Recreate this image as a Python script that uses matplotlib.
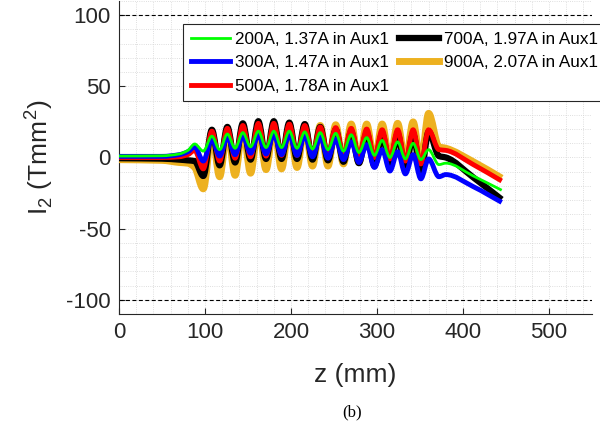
import numpy as np
import matplotlib
matplotlib.use("Agg")
import matplotlib.pyplot as plt
from matplotlib.path import Path
from matplotlib.patches import PathPatch
from matplotlib.lines import Line2D

plt.rcParams['font.family'] = ['Liberation Sans', 'DejaVu Sans']
plt.rcParams['mathtext.fontset'] = 'custom'
plt.rcParams['mathtext.rm'] = 'Liberation Sans'
plt.rcParams['axes.unicode_minus'] = False

# z positions (mm) of the read-off points: flat start, then peaks/troughs, then tail
z = [0, 50, 70, 80, 88, 98,
     108, 117, 126, 135, 144, 153, 162, 171, 180, 189, 198, 207, 216, 225,
     234, 243, 252, 261, 270, 279, 288, 297, 306, 315, 324, 333, 342, 351, 360,
     372, 380, 412, 445]

i2_200 = [1.0, 1.2, 2.5, 5.0, 9.5, 4.5,
          15, 5.5, 16.5, 6.5, 17.5, 7.5, 18.5, 7, 18.5, 7, 18.5, 6.5, 18, 6,
          17.5, 5.5, 17, 4.5, 16, 3.5, 14, 1.5, 12, 0, 11, -1, 10, -1.5, 5.5,
          -5, -4, -13, -23]
i2_300 = [0.8, 0.8, 2.0, 4.0, 7.5, -2.5,
          13, 1, 14.5, 2, 15.5, 3, 16, 2.5, 16, 2, 16, 1.5, 15.5, 0.5,
          14.5, -0.5, 13, -1.5, 11, -3.5, 9, -7, 5.5, -9.5, 4, -11.5, 2, -15, -1,
          -13.5, -12, -20.5, -31.5]
i2_500 = [0.0, 0.0, 0.5, 2.0, 5.0, -8.0,
          18.5, -2.5, 20.5, -0.5, 22.5, 0.5, 24, 1, 24, 1.5, 23.5, 1.5, 22.5, 1.5,
          21.5, 1.5, 21, 1.5, 20.5, 1, 20, 0, 19.5, -1, 19.5, -2.5, 19.5, -4.5, 19.5,
          5.5, 5, -5, -16.5]
i2_700 = [-0.5, -0.8, -1.5, -2.0, -2.5, -13,
          19.5, -5.5, 21.5, -3.5, 24, -1.5, 25.5, -1, 25.5, -1, 24.5, -1, 23.5, -1.5,
          21.5, -2, 19.5, -3, 18, -4, 17, -6, 16.5, -7.5, 16.5, -9, 16.5, -11, 18,
          1, 0, -14, -29.5]
i2_900 = [-1.5, -2.0, -3.5, -4.0, -7.0, -22,
          17, -13.5, 19, -12.5, 21, -11, 22, -8.5, 22, -8, 22, -7, 22, -6,
          22.5, -6, 23, -4.5, 23.5, -3.5, 23.5, -3, 23.5, -3, 24, -3.5, 25, -4, 31,
          7.5, 6.5, -3, -14.5]

labels = ['200A, 1.37A in Aux1', '300A, 1.47A in Aux1', '500A, 1.78A in Aux1',
          '700A, 1.97A in Aux1', '900A, 2.07A in Aux1']
colors = ['#00ff00', '#0000ff', '#ff0000', '#000000', '#edb120']
widths = [2.0, 3.5, 3.5, 4.5, 5.0]
series = [i2_200, i2_300, i2_500, i2_700, i2_900]


def smooth_path(x, y):
    # monotone cubic (pchip-like) drawn as bezier segments through the read points
    x = np.asarray(x, float)
    y = np.asarray(y, float)
    h = np.diff(x)
    d = np.diff(y) / h
    m = np.zeros_like(y)
    for i in range(1, len(y) - 1):
        if d[i - 1] * d[i] > 0:
            w1 = 2 * h[i] + h[i - 1]
            w2 = h[i] + 2 * h[i - 1]
            m[i] = (w1 + w2) / (w1 / d[i - 1] + w2 / d[i])
    m[0] = d[0]
    m[-1] = d[-1]
    verts = [(x[0], y[0])]
    codes = [Path.MOVETO]
    for i in range(len(x) - 1):
        verts += [(x[i] + h[i] / 3, y[i] + m[i] * h[i] / 3),
                  (x[i + 1] - h[i] / 3, y[i + 1] - m[i + 1] * h[i] / 3),
                  (x[i + 1], y[i + 1])]
        codes += [Path.CURVE4] * 3
    return Path(verts, codes)


fig = plt.figure(figsize=(6.0, 4.29), dpi=100)
ax = fig.add_axes([119 / 600, 1 - 314 / 429, 473 / 600, 313 / 429])

# draw 900A first so the thinner lines sit on top
for k in [4, 3, 2, 1, 0]:
    p = PathPatch(smooth_path(z, series[k]), fill=False, edgecolor=colors[k],
                  lw=widths[k], joinstyle='round', capstyle='butt', zorder=3 + (4 - k))
    ax.add_patch(p)

ax.axhline(100, color='k', lw=0.8, dashes=(3.6, 2.2), zorder=2)
ax.axhline(-100, color='k', lw=0.8, dashes=(3.6, 2.2), zorder=2)

ax.set_xlim(0, 550)
ax.set_ylim(-110, 110)
ax.set_xticks([0, 100, 200, 300, 400, 500])
ax.set_yticks([-100, -50, 0, 50, 100])
ax.set_xticks(np.arange(0, 551, 20), minor=True)
ax.set_yticks(np.arange(-110, 111, 10), minor=True)
ax.grid(True, which='both', ls=':', lw=0.6, color='#d4d4d4', zorder=0)
ax.set_axisbelow(True)

ax.tick_params(which='major', direction='in', length=4, width=0.8,
               labelsize=16, colors='#262626', pad=6)
ax.tick_params(which='minor', length=0)
for s in ['top', 'right']:
    ax.spines[s].set_visible(False)
for s in ['left', 'bottom']:
    ax.spines[s].set_color('#262626')
    ax.spines[s].set_linewidth(0.8)

ax.set_xlabel('z (mm)', fontsize=19, color='#262626')
ax.set_ylabel(r'I$_{\mathregular{2}}$ (Tmm$^{\mathregular{2}}$)', fontsize=19, color='#262626')
ax.xaxis.set_label_coords(0.5, -0.155)
ax.yaxis.set_label_coords(-0.135, 0.5)

handles = [Line2D([], [], color=colors[k], lw=widths[k]) for k in range(5)]
leg = fig.legend(handles, labels, ncol=2, loc='upper left',
                 bbox_to_anchor=(183 / 600, 1 - 24 / 429), borderaxespad=0,
                 fontsize=12.3, frameon=True, fancybox=False, framealpha=1,
                 handlelength=2.3, handletextpad=0.3, columnspacing=0.6,
                 labelspacing=0.5, borderpad=0.45)
leg.get_frame().set_edgecolor('#262626')
leg.get_frame().set_linewidth(0.8)

fig.text(352 / 600, 1 - 412 / 429, '(b)', ha='center', va='center',
         family='Liberation Serif', fontsize=12)

fig.savefig('out.png', dpi=100)
